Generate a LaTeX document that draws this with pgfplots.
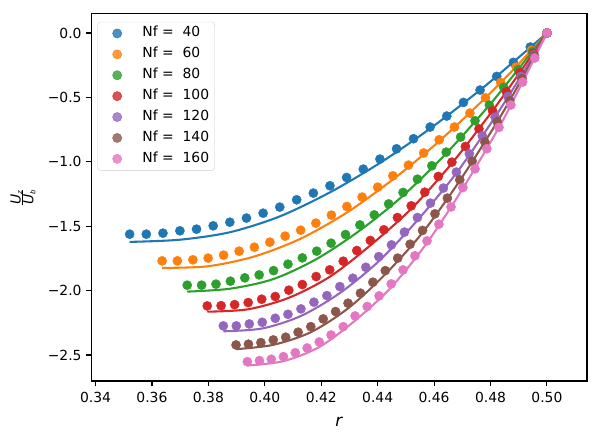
\documentclass[border=0pt]{standalone}
\usepackage{fontspec}
\setmainfont{DejaVu Sans}
\usepackage{pgfplots}
\pgfplotsset{compat=1.18}
\definecolor{c0}{HTML}{1F77B4}
\definecolor{c1}{HTML}{FF7F0E}
\definecolor{c2}{HTML}{2CA02C}
\definecolor{c3}{HTML}{D62728}
\definecolor{c4}{HTML}{9467BD}
\definecolor{c5}{HTML}{8C564B}
\definecolor{c6}{HTML}{E377C2}
\pgfplotsset{
  pts/.style={only marks, mark=*, color=#1, mark size=4.6bp, mark options={draw=none, fill=#1}},
  ln/.style={color=#1, line width=2.08bp, smooth, no marks, forget plot},
}
\begin{document}
\fontsize{13.9bp}{16.5bp}\selectfont
\begin{tikzpicture}
\begin{axis}[
  at={(91.3bp,59bp)}, anchor=south west,
  scale only axis, width=495.7bp, height=367.7bp,
  xmin=0.3385, xmax=0.5142, ymin=-2.702, ymax=0.153,
  xtick={0.34,0.36,0.38,0.40,0.42,0.44,0.46,0.48,0.50},
  xticklabels={0.34,0.36,0.38,0.40,0.42,0.44,0.46,0.48,0.50},
  ytick={-2.5,-2,-1.5,-1,-0.5,0},
  yticklabels={−2.5,−2.0,−1.5,−1.0,−0.5,0.0},
  xtick pos=bottom, ytick pos=left,
  tick align=outside, major tick length=4.9bp,
  tick style={line width=1.1bp, black},
  axis line style={line width=1.1bp},
  ticklabel style={font=\fontsize{13.9bp}{16.5bp}\selectfont},
  xticklabel style={yshift=-1bp},
  xlabel={\textit{r}},
  xlabel style={font=\fontsize{16.7bp}{19bp}\selectfont, at={(axis description cs:0.5,-0.11)}, anchor=center},
  ylabel={$\frac{\mbox{\itshape U}_{\mbox{\fontsize{7bp}{8bp}\selectfont\itshape z}}}{\mbox{\itshape U}_{\mbox{\fontsize{7bp}{8bp}\selectfont\itshape b}}}$},
  ylabel style={font=\fontsize{13.9bp}{16.5bp}\selectfont, at={(axis description cs:-0.138,0.5)}, anchor=center},
  legend cell align=left,
  legend style={at={(0.0121,0.977)}, anchor=north west, draw=black!20, rounded corners=3bp,
    fill=white, fill opacity=0.8, text opacity=1, draw opacity=1,
    font=\fontsize{13.9bp}{16.5bp}\selectfont, row sep=7.9bp, inner xsep=5.6bp, inner ysep=5bp,
    nodes={text height=10bp, text depth=3bp, inner sep=0bp}, column sep=11.1bp},
  legend image code/.code={\draw[#1] plot coordinates {(13.9bp,0bp)}; \path (0bp,0bp) (27.8bp,0bp);},
]
% Nf = 40
\addplot[pts=c0] coordinates {(0.3521,-1.562)(0.3580,-1.562)(0.3639,-1.554)(0.3699,-1.536)(0.3758,-1.523)(0.3817,-1.497)(0.3876,-1.469)(0.3935,-1.437)(0.3994,-1.399)(0.4053,-1.352)(0.4113,-1.295)(0.4172,-1.243)(0.4231,-1.186)(0.4290,-1.122)(0.4349,-1.057)(0.4408,-0.979)(0.4467,-0.899)(0.4527,-0.821)(0.4586,-0.730)(0.4645,-0.645)(0.4704,-0.539)(0.4763,-0.443)(0.4822,-0.337)(0.4881,-0.228)(0.4941,-0.109)(0.5000,0)};
\addlegendentry{Nf =\ \ 40}
\addplot[ln=c0] coordinates {(0.3521,-1.622)(0.3699,-1.605)(0.3876,-1.547)(0.4053,-1.424)(0.4231,-1.237)(0.4408,-1.009)(0.4586,-0.742)(0.4763,-0.443)(0.4881,-0.225)(0.5,0)};
% Nf = 60
\addplot[pts=c1] coordinates {(0.3636,-1.769)(0.3690,-1.769)(0.3745,-1.761)(0.3799,-1.748)(0.3854,-1.725)(0.3909,-1.694)(0.3963,-1.663)(0.4018,-1.624)(0.4072,-1.577)(0.4127,-1.531)(0.4181,-1.476)(0.4236,-1.414)(0.4291,-1.347)(0.4345,-1.274)(0.4400,-1.197)(0.4454,-1.109)(0.4509,-1.026)(0.4563,-0.932)(0.4618,-0.829)(0.4672,-0.730)(0.4727,-0.622)(0.4782,-0.503)(0.4836,-0.384)(0.4891,-0.264)(0.4945,-0.134)(0.5000,0)};
\addlegendentry{Nf =\ \ 60}
\addplot[ln=c1] coordinates {(0.3636,-1.824)(0.3799,-1.811)(0.3963,-1.735)(0.4127,-1.597)(0.4291,-1.394)(0.4454,-1.137)(0.4618,-0.840)(0.4782,-0.503)(0.4891,-0.261)(0.5,0)};
% Nf = 80
\addplot[pts=c2] coordinates {(0.3725,-1.958)(0.3776,-1.958)(0.3827,-1.950)(0.3878,-1.927)(0.3929,-1.901)(0.3980,-1.878)(0.4031,-1.845)(0.4082,-1.795)(0.4133,-1.746)(0.4184,-1.694)(0.4235,-1.632)(0.4286,-1.565)(0.4337,-1.490)(0.4388,-1.412)(0.4439,-1.327)(0.4490,-1.238)(0.4541,-1.135)(0.4592,-1.031)(0.4643,-0.925)(0.4694,-0.808)(0.4745,-0.681)(0.4796,-0.560)(0.4847,-0.423)(0.4898,-0.285)(0.4949,-0.145)(0.5000,0)};
\addlegendentry{Nf =\ \ 80}
\addplot[ln=c2] coordinates {(0.3725,-2.008)(0.3878,-1.985)(0.4031,-1.910)(0.4184,-1.754)(0.4337,-1.533)(0.4490,-1.263)(0.4643,-0.935)(0.4796,-0.560)(0.4898,-0.282)(0.5,0)};
% Nf = 100
\addplot[pts=c3] coordinates {(0.3796,-2.119)(0.3845,-2.117)(0.3893,-2.109)(0.3941,-2.093)(0.3989,-2.067)(0.4037,-2.046)(0.4085,-1.997)(0.4133,-1.953)(0.4182,-1.891)(0.4230,-1.839)(0.4278,-1.772)(0.4326,-1.689)(0.4374,-1.611)(0.4422,-1.528)(0.4470,-1.433)(0.4519,-1.342)(0.4567,-1.236)(0.4615,-1.114)(0.4663,-1.003)(0.4711,-0.881)(0.4759,-0.744)(0.4807,-0.604)(0.4856,-0.456)(0.4904,-0.308)(0.4952,-0.157)(0.5000,0)};
\addlegendentry{Nf =\ \ 100}
\addplot[ln=c3] coordinates {(0.3796,-2.164)(0.3941,-2.145)(0.4085,-2.056)(0.4230,-1.893)(0.4374,-1.649)(0.4519,-1.365)(0.4663,-1.012)(0.4807,-0.604)(0.4904,-0.306)(0.5,0)};
% Nf = 120
\addplot[pts=c4] coordinates {(0.3853,-2.274)(0.3899,-2.274)(0.3945,-2.259)(0.3991,-2.246)(0.4037,-2.215)(0.4082,-2.184)(0.4128,-2.142)(0.4174,-2.090)(0.4220,-2.039)(0.4266,-1.969)(0.4312,-1.904)(0.4358,-1.819)(0.4404,-1.736)(0.4449,-1.645)(0.4495,-1.546)(0.4541,-1.433)(0.4587,-1.321)(0.4633,-1.204)(0.4679,-1.080)(0.4725,-0.938)(0.4771,-0.798)(0.4816,-0.653)(0.4862,-0.493)(0.4908,-0.337)(0.4954,-0.169)(0.5000,0)};
\addlegendentry{Nf =\ \ 120}
\addplot[ln=c4] coordinates {(0.3853,-2.316)(0.3991,-2.294)(0.4128,-2.197)(0.4266,-2.019)(0.4404,-1.772)(0.4541,-1.454)(0.4679,-1.088)(0.4816,-0.653)(0.4908,-0.335)(0.5,0)};
% Nf = 140
\addplot[pts=c5] coordinates {(0.3898,-2.422)(0.3942,-2.416)(0.3986,-2.404)(0.4030,-2.383)(0.4074,-2.362)(0.4118,-2.323)(0.4163,-2.280)(0.4207,-2.220)(0.4251,-2.163)(0.4295,-2.098)(0.4339,-2.020)(0.4383,-1.935)(0.4427,-1.845)(0.4471,-1.748)(0.4515,-1.640)(0.4559,-1.533)(0.4603,-1.404)(0.4647,-1.282)(0.4691,-1.140)(0.4735,-0.995)(0.4780,-0.847)(0.4824,-0.689)(0.4868,-0.526)(0.4912,-0.355)(0.4956,-0.176)(0.5000,0)};
\addlegendentry{Nf =\ \ 140}
\addplot[ln=c5] coordinates {(0.3898,-2.455)(0.4030,-2.421)(0.4163,-2.323)(0.4295,-2.138)(0.4427,-1.873)(0.4559,-1.550)(0.4691,-1.147)(0.4824,-0.689)(0.4912,-0.353)(0.5,0)};
% Nf = 160
\addplot[pts=c6] coordinates {(0.3938,-2.552)(0.3981,-2.544)(0.4023,-2.533)(0.4066,-2.513)(0.4108,-2.482)(0.4150,-2.446)(0.4193,-2.399)(0.4235,-2.345)(0.4278,-2.280)(0.4320,-2.197)(0.4363,-2.124)(0.4405,-2.041)(0.4448,-1.948)(0.4490,-1.839)(0.4532,-1.730)(0.4575,-1.614)(0.4617,-1.485)(0.4660,-1.350)(0.4702,-1.200)(0.4745,-1.055)(0.4787,-0.899)(0.4830,-0.733)(0.4872,-0.559)(0.4914,-0.381)(0.4957,-0.194)(0.5000,0)};
\addlegendentry{Nf =\ \ 160}
\addplot[ln=c6] coordinates {(0.3938,-2.582)(0.4066,-2.548)(0.4193,-2.438)(0.4320,-2.233)(0.4448,-1.974)(0.4575,-1.629)(0.4702,-1.206)(0.4830,-0.733)(0.4914,-0.379)(0.5,0)};
\end{axis}
\pgfresetboundingbox
\useasboundingbox (0,0) rectangle (600bp,440bp);
\end{tikzpicture}
\end{document}
